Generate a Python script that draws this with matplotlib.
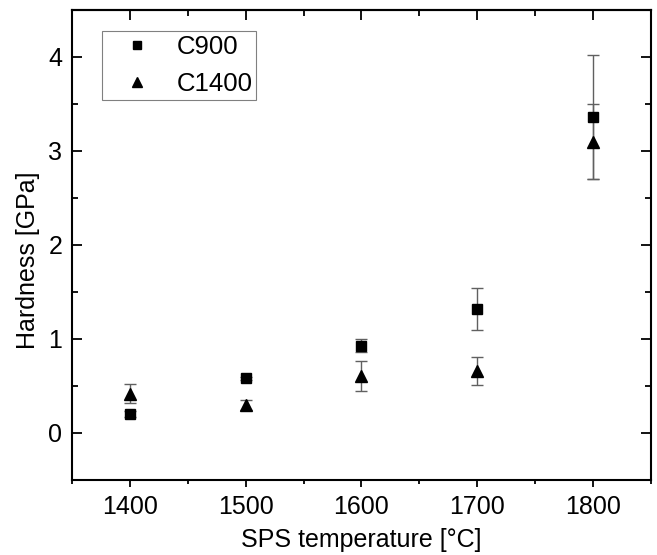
import matplotlib.pyplot as plt
from matplotlib.ticker import MultipleLocator

# data
temps = [1400, 1500, 1600, 1700, 1800]
c900 = [0.20, 0.58, 0.93, 1.32, 3.36]
c900_err = [0.03, 0.02, 0.07, 0.22, 0.66]
c1400 = [0.42, 0.30, 0.61, 0.66, 3.10]
c1400_err = [0.10, 0.05, 0.16, 0.15, 0.40]

plt.rcParams['font.family'] = ['Liberation Sans', 'DejaVu Sans']

fig = plt.figure(figsize=(6.57, 5.55), dpi=100)
ax = fig.add_axes([72 / 657, 75 / 555, 579 / 657, 470 / 555])

ax.errorbar(temps, c900, yerr=c900_err, fmt='none', ecolor='#606060',
            elinewidth=1, capsize=4, capthick=1)
ax.errorbar(temps, c1400, yerr=c1400_err, fmt='none', ecolor='#606060',
            elinewidth=1, capsize=4, capthick=1)
ax.plot(temps, c900, 's', color='black', ms=7, label='C900')
ax.plot(temps, c1400, '^', color='black', ms=9, label='C1400')

ax.set_xlim(1350, 1850)
ax.set_ylim(-0.5, 4.5)
ax.xaxis.set_major_locator(MultipleLocator(100))
ax.xaxis.set_minor_locator(MultipleLocator(50))
ax.yaxis.set_major_locator(MultipleLocator(1))
ax.yaxis.set_minor_locator(MultipleLocator(0.5))

# bottom ticks outward, left/right inward
ax.tick_params(axis='x', which='major', direction='out', length=5, width=1.3,
               labelsize=18, pad=6)
ax.tick_params(axis='x', which='minor', direction='out', length=3, width=1.3)
ax.tick_params(axis='y', which='major', direction='in', length=7, width=1.3,
               labelsize=18, pad=7, right=True)
ax.tick_params(axis='y', which='minor', direction='in', length=4, width=1.3,
               right=True)

# top ticks point inward
top = ax.secondary_xaxis('top')
top.xaxis.set_major_locator(MultipleLocator(100))
top.xaxis.set_minor_locator(MultipleLocator(50))
top.tick_params(which='major', direction='in', length=7, width=1.3, labeltop=False)
top.tick_params(which='minor', direction='in', length=4, width=1.3)

for sp in list(ax.spines.values()) + [top.spines['top']]:
    sp.set_linewidth(1.5)

ax.set_xlabel('SPS temperature [°C]', fontsize=18, labelpad=6)
ax.set_ylabel('Hardness [GPa]', fontsize=18)
ax.yaxis.set_label_coords(-0.056, 0.468)

leg = ax.legend(loc='upper left', bbox_to_anchor=(102 / 657, 1 - 31 / 555),
                bbox_transform=fig.transFigure, borderaxespad=0, fontsize=18.5,
                frameon=True, fancybox=False, edgecolor='#606060',
                handletextpad=0.35, borderpad=0.15, labelspacing=0.5,
                handlelength=2.4, markerscale=0.8)
leg.get_frame().set_linewidth(0.8)

fig.savefig('out.png', dpi=100)
